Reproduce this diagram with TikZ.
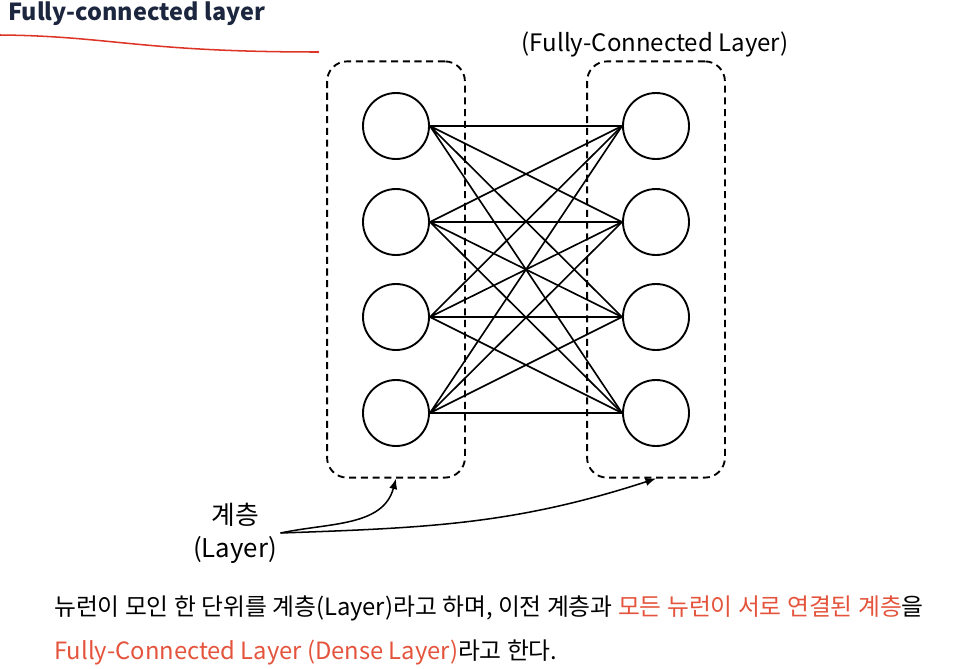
\documentclass[tikz,border=0pt]{standalone}
\usepackage{fontspec}
\setmainfont{Noto Sans CJK KR}
\usetikzlibrary{arrows.meta,positioning,fit}

\definecolor{titleblue}{RGB}{28,38,62}
\definecolor{marker}{RGB}{222,52,38}
\definecolor{hilite}{RGB}{228,84,60}

\begin{document}
\begin{tikzpicture}[x=0.03cm,y=-0.03cm,
  neuron/.style={circle,draw,line width=1.6pt,minimum size=1.98cm,inner sep=0pt},
  layerbox/.style={draw,dashed,line width=1.6pt,dash pattern=on 6pt off 4pt,rounded corners=0.6cm,inner xsep=1.05cm,inner ysep=0.92cm},
  edge/.style={line width=1.4pt}]
\useasboundingbox (0,0) rectangle (977,668);

% Title
\node[anchor=west,text=titleblue,font=\fontsize{20}{24}\selectfont\bfseries] (title) at (4,14) {Fully-connected layer};
\draw[marker,line width=1.3pt] (0,35) .. controls (110,36) and (140,52) .. (318,52);
\fill[marker] (318,52) circle (1.4);

% Left layer
\node[neuron] (l1) at (396,126) {};
\node[neuron] (l2) at (396,222) {};
\node[neuron] (l3) at (396,317) {};
\node[neuron] (l4) at (396,413) {};
\node[layerbox,fit=(l1)(l4)] (lbox) {};

% Right layer
\node[neuron] (r1) at (656,126) {};
\node[neuron] (r2) at (656,222) {};
\node[neuron] (r3) at (656,317) {};
\node[neuron] (r4) at (656,413) {};
\node[layerbox,fit=(r1)(r4)] (rbox) {};
\node[font=\fontsize{20.5}{24}\selectfont] (fclabel) at (655,44) {(Fully-Connected Layer)};

% Full connections
\draw[edge] (l1.east) -- (r1.west) (l1.east) -- (r2.west) (l1.east) -- (r3.west) (l1.east) -- (r4.west);
\draw[edge] (l2.east) -- (r1.west) (l2.east) -- (r2.west) (l2.east) -- (r3.west) (l2.east) -- (r4.west);
\draw[edge] (l3.east) -- (r1.west) (l3.east) -- (r2.west) (l3.east) -- (r3.west) (l3.east) -- (r4.west);
\draw[edge] (l4.east) -- (r1.west) (l4.east) -- (r2.west) (l4.east) -- (r3.west) (l4.east) -- (r4.west);

% Layer label
\node[align=center,font=\fontsize{22}{28}\selectfont,inner sep=3pt] (lbl) at (235,533) {계층\\(Layer)};
\draw[-{Latex[length=9pt,width=7pt]},line width=1.3pt] (lbl.east) to[out=12,in=-105] (lbox.south);
\draw[-{Latex[length=9pt,width=7pt]},line width=1.3pt] (lbl.east) to[out=2,in=198] (rbox.south);

% Description
\node[anchor=west,font=\fontsize{20.3}{24}\selectfont] (desc1) at (50,608) {뉴런이 모인 한 단위를 계층(Layer)라고 하며, 이전 계층과 \textcolor{hilite}{모든 뉴런이 서로 연결된 계층}을};
\node[anchor=west,font=\fontsize{20.3}{24}\selectfont] (desc2) at (50,652) {\textcolor{hilite}{Fully-Connected Layer (Dense Layer)}라고 한다.};
\end{tikzpicture}
\end{document}
